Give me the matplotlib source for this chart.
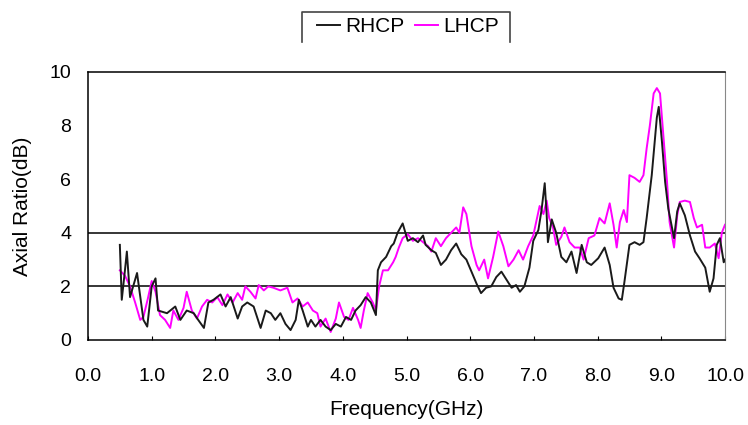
import matplotlib
matplotlib.use("Agg")
import matplotlib.pyplot as plt
from matplotlib.lines import Line2D

plt.rcParams['font.family'] = ['Liberation Sans', 'DejaVu Sans']

# RHCP axial ratio (dB) vs frequency (GHz)
rh_f = [0.50, 0.53, 0.58, 0.61, 0.66, 0.77, 0.87, 0.93, 1.00, 1.06, 1.10, 1.24, 1.37, 1.45,
        1.55, 1.66, 1.73, 1.82, 1.89, 1.97, 2.08, 2.16, 2.24, 2.35, 2.42, 2.50, 2.60, 2.71,
        2.79, 2.87, 2.94, 3.02, 3.10, 3.18, 3.26, 3.31, 3.37, 3.45, 3.50, 3.57, 3.65, 3.73,
        3.81, 3.89, 3.97, 4.05, 4.13, 4.20, 4.28, 4.36, 4.44, 4.52, 4.55, 4.60, 4.68, 4.76,
        4.80, 4.86, 4.94, 5.02, 5.10, 5.18, 5.26, 5.30, 5.39, 5.46, 5.54, 5.62, 5.70, 5.78,
        5.86, 5.94, 6.02, 6.10, 6.17, 6.25, 6.33, 6.41, 6.49, 6.57, 6.65, 6.72, 6.78, 6.85,
        6.93, 6.99, 7.07, 7.12, 7.17, 7.20, 7.22, 7.28, 7.35, 7.43, 7.51, 7.59, 7.67, 7.75,
        7.83, 7.90, 8.01, 8.11, 8.19, 8.25, 8.33, 8.38, 8.42, 8.50, 8.58, 8.66, 8.72, 8.77,
        8.85, 8.93, 8.96, 9.01, 9.06, 9.11, 9.20, 9.25, 9.29, 9.37, 9.45, 9.53, 9.60, 9.69,
        9.76, 9.82, 9.87, 9.92, 9.98, 10.0]
rh_v = [3.55, 1.50, 2.60, 3.30, 1.60, 2.50, 0.75, 0.50, 2.00, 2.30, 1.10, 1.00, 1.25, 0.75,
        1.10, 1.00, 0.75, 0.45, 1.40, 1.50, 1.70, 1.25, 1.60, 0.80, 1.25, 1.40, 1.25, 0.45,
        1.10, 1.00, 0.75, 1.00, 0.60, 0.37, 0.75, 1.50, 1.10, 0.50, 0.75, 0.50, 0.75, 0.50,
        0.37, 0.60, 0.50, 0.86, 0.75, 1.10, 1.30, 1.60, 1.40, 0.93, 2.60, 2.90, 3.10, 3.50,
        3.60, 4.00, 4.35, 3.70, 3.80, 3.65, 3.90, 3.55, 3.35, 3.25, 2.80, 3.00, 3.35, 3.60,
        3.20, 3.00, 2.55, 2.10, 1.75, 1.95, 2.00, 2.35, 2.55, 2.25, 1.95, 2.05, 1.80, 2.00,
        2.70, 3.70, 4.10, 4.85, 5.85, 4.70, 3.65, 4.50, 4.00, 3.10, 2.90, 3.30, 2.50, 3.55,
        2.90, 2.80, 3.05, 3.45, 2.80, 1.95, 1.55, 1.50, 2.15, 3.55, 3.65, 3.55, 3.65, 4.55,
        6.15, 8.30, 8.70, 7.40, 5.90, 4.90, 3.80, 4.80, 5.10, 4.65, 3.90, 3.30, 3.05, 2.70,
        1.80, 2.30, 3.55, 3.80, 2.90, 3.00]

# LHCP axial ratio (dB) vs frequency (GHz)
lh_f = [0.50, 0.58, 0.66, 0.74, 0.82, 0.87, 0.94, 1.00, 1.06, 1.13, 1.21, 1.29, 1.34, 1.42,
        1.50, 1.55, 1.63, 1.71, 1.79, 1.87, 1.95, 2.03, 2.11, 2.19, 2.27, 2.35, 2.42, 2.47,
        2.55, 2.63, 2.68, 2.76, 2.83, 2.91, 3.02, 3.13, 3.21, 3.29, 3.37, 3.45, 3.53, 3.60,
        3.65, 3.73, 3.81, 3.89, 3.94, 4.02, 4.09, 4.16, 4.24, 4.28, 4.33, 4.39, 4.47, 4.52,
        4.57, 4.63, 4.71, 4.79, 4.83, 4.88, 4.94, 5.02, 5.10, 5.18, 5.26, 5.34, 5.39, 5.46,
        5.54, 5.62, 5.70, 5.78, 5.83, 5.89, 5.94, 6.02, 6.10, 6.14, 6.22, 6.28, 6.36, 6.44,
        6.52, 6.60, 6.68, 6.76, 6.83, 6.91, 6.99, 7.04, 7.09, 7.15, 7.20, 7.24, 7.30, 7.35,
        7.43, 7.48, 7.56, 7.64, 7.72, 7.78, 7.86, 7.95, 8.03, 8.11, 8.19, 8.25, 8.30, 8.35,
        8.41, 8.46, 8.50, 8.58, 8.66, 8.72, 8.77, 8.82, 8.88, 8.93, 8.98, 9.04, 9.09, 9.13,
        9.20, 9.25, 9.29, 9.37, 9.45, 9.51, 9.56, 9.64, 9.69, 9.76, 9.84, 9.90, 9.95, 10.0]
lh_v = [2.60, 2.40, 2.00, 1.40, 0.75, 0.86, 1.55, 2.20, 1.80, 0.93, 0.75, 0.45, 1.10, 0.75,
        1.20, 1.80, 1.10, 0.80, 1.25, 1.50, 1.40, 1.60, 1.30, 1.70, 1.40, 1.75, 1.50, 2.00,
        1.80, 1.55, 2.05, 1.85, 2.00, 1.95, 1.85, 1.95, 1.40, 1.55, 1.25, 1.40, 1.10, 1.00,
        0.50, 0.80, 0.30, 0.80, 1.40, 0.86, 0.75, 1.20, 0.75, 0.45, 1.10, 1.75, 1.40, 1.10,
        2.00, 2.60, 2.60, 2.90, 3.10, 3.45, 3.80, 3.95, 3.70, 3.80, 3.65, 3.50, 3.30, 3.80,
        3.50, 3.80, 4.00, 4.20, 4.00, 4.95, 4.70, 3.50, 2.80, 2.60, 3.00, 2.30, 3.10, 4.05,
        3.50, 2.75, 3.00, 3.35, 3.00, 3.50, 3.90, 4.45, 5.00, 4.70, 5.20, 4.55, 4.20, 3.55,
        3.85, 4.20, 3.65, 3.45, 3.45, 3.00, 3.80, 3.90, 4.55, 4.35, 5.10, 4.30, 3.45, 4.40,
        4.85, 4.40, 6.15, 6.05, 5.90, 6.15, 7.15, 8.00, 9.20, 9.40, 9.20, 7.40, 5.90, 4.40,
        3.45, 4.65, 5.15, 5.20, 5.15, 4.55, 4.20, 4.30, 3.45, 3.45, 3.60, 3.05, 4.00, 4.30]

x_ticks = [0, 1, 2, 3, 4, 5, 6, 7, 8, 9, 10]
x_labels = ["%.1f" % v for v in x_ticks]
y_ticks = [0, 2, 4, 6, 8, 10]
ref_levels = [2, 4]

fig = plt.figure(figsize=(7.48, 4.25), dpi=100)
ax = fig.add_axes([88 / 748, 85 / 425, 637 / 748, 268 / 425])

for lv in ref_levels:
    ax.axhline(lv, color="black", lw=1.1, zorder=1)
ax.plot(rh_f, rh_v, color="#1a1a1a", lw=1.4, label="RHCP", zorder=3)
ax.plot(lh_f, lh_v, color="#ff00ff", lw=1.4, label="LHCP", zorder=2)

ax.set_xlim(0, 10); ax.set_ylim(0, 10)
ax.set_xticks(x_ticks); ax.set_xticklabels(x_labels)
ax.set_yticks(y_ticks)
ax.tick_params(axis="x", direction="in", length=3, pad=20, labelsize=14)
ax.tick_params(axis="y", length=0, pad=12, labelsize=14)
for s in ("left", "bottom", "top"):
    ax.spines[s].set_color("black"); ax.spines[s].set_linewidth(1.1)
ax.spines["right"].set_color("#888888")
ax.set_xlabel("Frequency(GHz)", fontsize=15, labelpad=11)
ax.set_ylabel("Axial Ratio(dB)", fontsize=15, labelpad=13)

leg = fig.legend(loc="center", bbox_to_anchor=(408 / 748, 1 - 27 / 425), ncol=2, frameon=False,
                 fontsize=15, handlelength=1.1, handletextpad=0.25, columnspacing=0.5)
# open-bottom bracket around the legend
x0, x1, yt, yb = 302 / 748, 510 / 748, 1 - 12 / 425, 1 - 42 / 425
fig.add_artist(Line2D([x0, x0, x1, x1], [yb, yt, yt, yb], transform=fig.transFigure,
                      color="#444444", lw=1.2))

fig.savefig("out.png", dpi=100)
